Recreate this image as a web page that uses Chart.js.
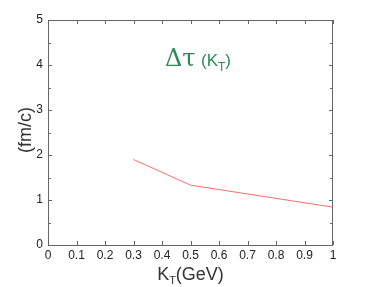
<!DOCTYPE html>
<html>
<head>
<meta charset="utf-8">
<script src="https://cdn.jsdelivr.net/npm/chart.js@4"></script>
<style>
  html, body { margin: 0; padding: 0; background: #fff; }
  #wrap { width: 369px; height: 287px; }
</style>
</head>
<body>
<div id="wrap"><canvas id="tauChart" width="369" height="287"></canvas></div>
<script>
// data
const ktValues = [0.3, 0.5, 1.0];
const tauValues = [1.90, 1.33, 0.84];
const xTicks = [0, 0.1, 0.2, 0.3, 0.4, 0.5, 0.6, 0.7, 0.8, 0.9, 1];
const yTicks = [0, 1, 2, 3, 4, 5];

const font = '"Liberation Sans", Arial, sans-serif';

// inward ticks on all four sides + labels with subscripts
const framePlugin = {
    id: 'frame',
    afterDraw(chart) {
        const ctx = chart.ctx;
        const x = chart.scales.x, y = chart.scales.y;
        const a = chart.chartArea;
        ctx.save();
        ctx.strokeStyle = '#666';
        ctx.lineWidth = 1;
        ctx.strokeRect(a.left + 0.5, a.top + 0.5, a.right - a.left - 1, a.bottom - a.top);
        ctx.beginPath();
        xTicks.forEach(v => {
            const px = Math.round(x.getPixelForValue(v)) + 0.5;
            ctx.moveTo(px, a.bottom); ctx.lineTo(px, a.bottom - 4);
            ctx.moveTo(px, a.top); ctx.lineTo(px, a.top + 4);
        });
        for (let v = 0; v <= 5; v += 0.5) {
            const py = Math.round(y.getPixelForValue(v)) + 0.5;
            const len = (v % 1 === 0) ? 4 : 3;
            ctx.moveTo(a.left, py); ctx.lineTo(a.left + len, py);
            ctx.moveTo(a.right, py); ctx.lineTo(a.right - len, py);
        }
        ctx.stroke();

        // axis titles
        ctx.fillStyle = '#333';
        ctx.font = '18px ' + font;
        ctx.textBaseline = 'alphabetic';
        ctx.textAlign = 'left';
        const cx = (a.left + a.right) / 2;
        const kw = ctx.measureText('K').width;
        ctx.font = '11px ' + font;
        const tw = ctx.measureText('T').width;
        ctx.font = '18px ' + font;
        const rest = ctx.measureText('(GeV)').width;
        let sx = cx - (kw + tw + rest) / 2;
        ctx.fillText('K', sx, 280);
        ctx.font = '11px ' + font;
        ctx.fillText('T', sx + kw, 284);
        ctx.font = '18px ' + font;
        ctx.fillText('(GeV)', sx + kw + tw, 280);

        ctx.save();
        ctx.translate(31, 130);
        ctx.rotate(-Math.PI / 2);
        ctx.textAlign = 'center';
        ctx.font = '18px ' + font;
        ctx.fillText('(fm/c)', 0, 0);
        ctx.restore();

        // in-plot label
        ctx.fillStyle = '#2e8b57';
        ctx.font = '24px "DejaVu Serif", serif';
        ctx.textAlign = 'left';
        ctx.fillText('\u0394\u03c4', 165, 66);
        ctx.font = '17px ' + font;
        ctx.fillText('(K', 201, 66);
        const pk = ctx.measureText('(K').width;
        ctx.font = '12px ' + font;
        ctx.fillText('T', 201 + pk, 71);
        const pt = ctx.measureText('T').width;
        ctx.font = '17px ' + font;
        ctx.fillText(')', 201 + pk + pt, 66);
        ctx.restore();
    }
};

const ctx = document.getElementById('tauChart').getContext('2d');
const tauChart = new Chart(ctx, {
    type: 'line',
    data: {
        datasets: [{
            data: ktValues.map((k, i) => ({ x: k, y: tauValues[i] })),
            borderColor: '#ff6b6b',
            borderWidth: 1,
            pointRadius: 0,
            tension: 0,
            fill: false
        }]
    },
    options: {
        responsive: false,
        animation: false,
        layout: { padding: { top: 20, right: 36, left: 0, bottom: 0 } },
        plugins: { legend: { display: false }, tooltip: { enabled: false } },
        scales: {
            x: {
                type: 'linear',
                min: 0, max: 1,
                afterBuildTicks(scale) { scale.ticks = xTicks.map(v => ({ value: v })); },
                afterFit(scale) { scale.height = 42; },
                grid: { display: false, drawTicks: false },
                border: { display: false },
                ticks: {
                    color: '#222',
                    font: { family: font, size: 12 },
                    padding: 3,
                    maxRotation: 0,
                    callback: v => String(Math.round(v * 10) / 10)
                }
            },
            y: {
                min: 0, max: 5,
                afterBuildTicks(scale) { scale.ticks = yTicks.map(v => ({ value: v })); },
                afterFit(scale) { scale.width = 48; },
                grid: { display: false, drawTicks: false },
                border: { display: false },
                ticks: {
                    color: '#222',
                    font: { family: font, size: 12 },
                    padding: 5
                }
            }
        }
    },
    plugins: [framePlugin]
});
</script>
</body>
</html>
